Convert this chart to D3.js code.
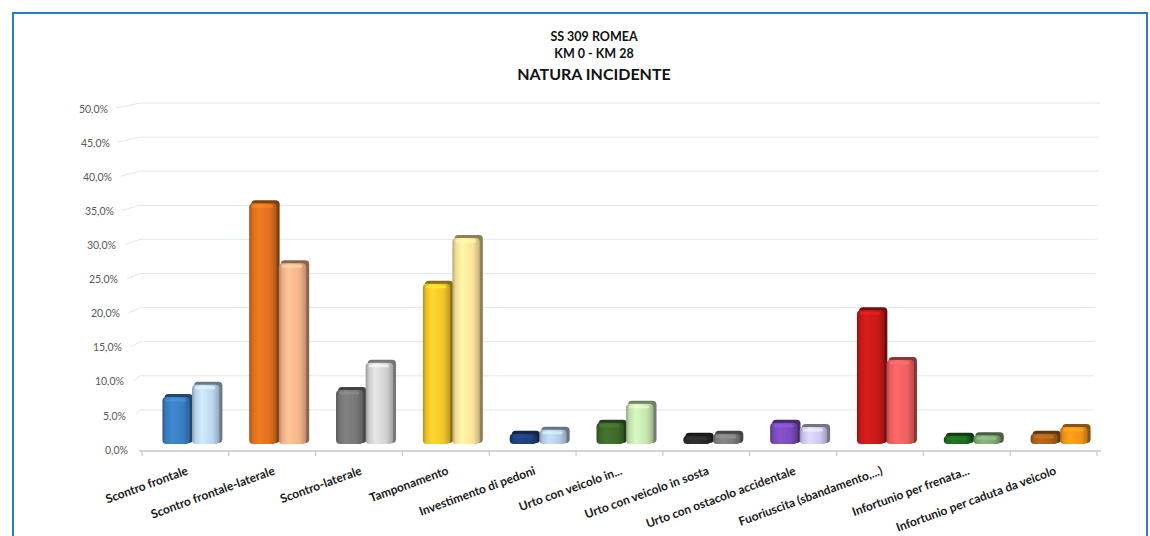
<!DOCTYPE html>
<html>
<head>
<meta charset="utf-8">
<script src="https://cdn.jsdelivr.net/npm/d3@7"></script>
<style>
  body { margin: 0; background: #fff; }
  svg { display: block; }
</style>
</head>
<body>
<script>
var categories = ["Scontro frontale", "Scontro frontale-laterale", "Scontro-laterale", "Tamponamento",
  "Investimento di pedoni", "Urto con veicolo in...", "Urto con veicolo in sosta",
  "Urto con ostacolo accidentale", "Fuoriuscita  (sbandamento,...)", "Infortunio per frenata...",
  "Infortunio per caduta da veicolo"];
var serie1 = [6.9, 35.3, 7.9, 23.5, 1.5, 3.1, 1.2, 3.1, 19.6, 1.2, 1.5];
var serie2 = [8.7, 26.5, 11.9, 30.2, 2.1, 5.9, 1.5, 2.5, 12.3, 1.3, 2.5];
var colors1 = ["#3a7dc0", "#e0701f", "#777777", "#f2c62a", "#1f3f7a", "#3f6a2a", "#2b2b2b", "#7b4bbd", "#c81a1a", "#1e6a1e", "#a8621a"];
var colors2 = ["#bcd7f0", "#f5b48a", "#d2d2d2", "#fbe39a", "#b6cbe8", "#c6e5b0", "#7c7c7c", "#cdc9ee", "#f06060", "#7fa675", "#f29418"];
var yTicks = [0, 5, 10, 15, 20, 25, 30, 35, 40, 45, 50];
var titles = ["SS 309  ROMEA", "KM 0 - KM 28", "NATURA INCIDENTE"];

var width = 1150, height = 536;
var svg = d3.select("body").append("svg").attr("width", width).attr("height", height);

// frame
svg.append("path")
  .attr("d", "M13,536 L13,13 L1147,13 L1147,536")
  .attr("fill", "none").attr("stroke", "#2a7dc9").attr("stroke-width", 2);

// titles
var tx = 594;
svg.append("text").attr("x", tx).attr("y", 41).attr("text-anchor", "middle")
  .attr("font-family", "Lato").attr("font-weight", "bold").attr("font-size", 12.5).attr("fill", "#111")
  .text(titles[0]);
svg.append("text").attr("x", tx).attr("y", 58).attr("text-anchor", "middle")
  .attr("font-family", "Lato").attr("font-weight", "bold").attr("font-size", 12.5).attr("fill", "#111")
  .text(titles[1]);
svg.append("text").attr("x", tx).attr("y", 80).attr("text-anchor", "middle")
  .attr("font-family", "Lato").attr("font-weight", "bold").attr("font-size", 16).attr("fill", "#111")
  .text(titles[2]);

var y = d3.scaleLinear().domain([0, 50]).range([444, 103]);
var x = d3.scaleBand().domain(categories).range([142, 1097]);
var xs = d3.scaleBand().domain([0, 1]).range([0, 58]).paddingInner(0.04);

var fmt = function(v){ return d3.format(".1f")(v).replace(".", ",") + "%"; };

// grid (back wall + side wall)
var grid = svg.append("g");
yTicks.filter(function(v){ return v > 0; }).forEach(function(v){
  var x0 = 116 + (50 - v) * 0.44;
  grid.append("path")
    .attr("d", "M" + x0 + "," + (y(v) + 5) + " L140," + y(v) + " L" + (1100 - (50 - v) * 0.15) + "," + y(v))
    .attr("fill", "none").attr("stroke", "#dfe9e7").attr("stroke-width", 1);
});

// y labels
svg.append("g").selectAll("text").data(yTicks).enter().append("text")
  .attr("x", function(v){ return 108 + (50 - v) * 0.4; })
  .attr("y", function(v){ return y(v) + 6; })
  .attr("dy", "0.35em")
  .attr("text-anchor", "end")
  .attr("font-family", "Lato").attr("font-size", 10.5).attr("fill", "#595959")
  .text(fmt);

// floor axis
var axisY = 451;
svg.append("line").attr("x1", 139).attr("x2", 1101).attr("y1", axisY).attr("y2", axisY)
  .attr("stroke", "#c6c6c6").attr("stroke-width", 1.5);
var bounds = categories.map(function(c){ return x(c); }).concat([x.range()[1]]);
svg.append("g").selectAll("line").data(bounds).enter().append("line")
  .attr("x1", function(d){ return d; }).attr("x2", function(d){ return d; })
  .attr("y1", axisY).attr("y2", axisY + 5)
  .attr("stroke", "#c6c6c6").attr("stroke-width", 1.2);

// gradients
var defs = svg.append("defs");
function grad(id, col){
  var c = d3.color(col);
  var g = defs.append("linearGradient").attr("id", id).attr("x1", 0).attr("x2", 1).attr("y1", 0).attr("y2", 0);
  g.append("stop").attr("offset", "0%").attr("stop-color", c.darker(0.9));
  g.append("stop").attr("offset", "12%").attr("stop-color", c.darker(0.1));
  g.append("stop").attr("offset", "35%").attr("stop-color", c.brighter(0.25));
  g.append("stop").attr("offset", "75%").attr("stop-color", c);
  g.append("stop").attr("offset", "100%").attr("stop-color", c.darker(0.7));
}

var bars = [];
categories.forEach(function(c, i){
  bars.push({cat: c, s: 0, v: serie1[i], col: colors1[i], id: "g" + i + "a"});
  bars.push({cat: c, s: 1, v: serie2[i], col: colors2[i], id: "g" + i + "b"});
});
bars.forEach(function(b){ grad(b.id, b.col); });

var off = (x.bandwidth() - 58) / 2 + 6;
var bw = xs.bandwidth();
var depth = 4;

var bg = svg.append("g").selectAll("g").data(bars).enter().append("g")
  .attr("transform", function(b){ return "translate(" + (x(b.cat) + off + xs(b.s)) + ",0)"; });

// depth / side
bg.append("rect")
  .attr("x", 2).attr("width", bw)
  .attr("y", function(b){ return y(b.v) - depth + 1; })
  .attr("height", function(b){ return y(0) - y(b.v) + depth - 2; })
  .attr("rx", 4)
  .attr("fill", function(b){ return d3.color(b.col).darker(1.6); });

// front
bg.append("rect")
  .attr("x", 0).attr("width", bw - 1)
  .attr("y", function(b){ return y(b.v); })
  .attr("height", function(b){ return y(0) - y(b.v); })
  .attr("rx", 4)
  .attr("fill", function(b){ return "url(#" + b.id + ")"; });

// top highlight
bg.append("rect")
  .attr("x", 3).attr("width", bw - 8)
  .attr("y", function(b){ return y(b.v) + 1.5; })
  .attr("height", function(b){ return Math.min(3, Math.max(0, y(0) - y(b.v) - 3)); })
  .attr("rx", 1.5)
  .attr("fill", function(b){ return d3.color(b.col).brighter(0.6); })
  .attr("opacity", 0.6);

// category labels
svg.append("g").selectAll("text").data(categories).enter().append("text")
  .attr("transform", function(c){ return "translate(" + (x(c) + x.bandwidth() / 2 + 2) + ",470) rotate(-20)"; })
  .attr("text-anchor", "end")
  .attr("dy", "0.35em")
  .attr("font-family", "Lato").attr("font-weight", "bold").attr("font-size", 12).attr("fill", "#1a1a1a")
  .text(function(c){ return c; });
</script>
</body>
</html>
